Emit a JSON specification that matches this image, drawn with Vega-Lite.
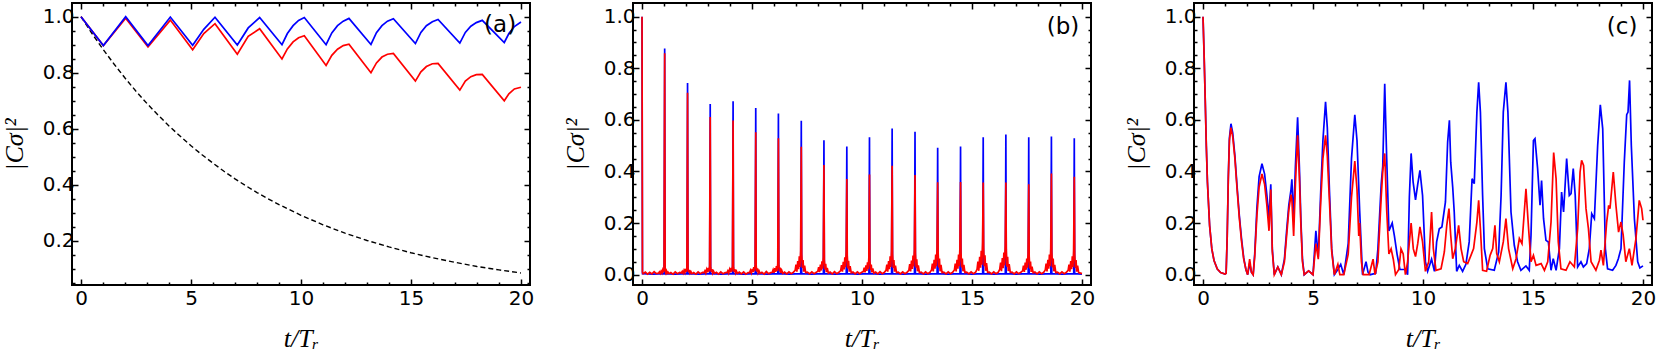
{
"$schema": "https://vega.github.io/schema/vega-lite/v6.json",
"padding": {"left": 0, "top": 1, "right": 0, "bottom": 0},
"spacing": 26,
"config": {
  "view": {"stroke": "black", "strokeWidth": 2},
  "axis": {"labelFont": "DejaVu Sans", "labelFontSize": 20, "labelColor": "black", "tickColor": "black", "tickWidth": 1.5, "domain": false, "grid": false, "labelOverlap": false, "labelFlush": false, "titleColor": "black", "titleFont": "Liberation Serif, DejaVu Serif", "titleFontStyle": "italic", "titleFontWeight": "normal", "titleFontSize": 26}
},
"datasets": {
  "a_exp": [{"t":0,"v":1.0},{"t":0.5,"v":0.940},{"t":1,"v":0.884},{"t":1.5,"v":0.831},{"t":2,"v":0.781},{"t":2.5,"v":0.734},{"t":3,"v":0.690},{"t":3.5,"v":0.649},{"t":4,"v":0.610},{"t":4.5,"v":0.574},{"t":5,"v":0.539},{"t":5.5,"v":0.507},{"t":6,"v":0.477},{"t":6.5,"v":0.448},{"t":7,"v":0.421},{"t":7.5,"v":0.396},{"t":8,"v":0.372},{"t":8.5,"v":0.350},{"t":9,"v":0.329},{"t":9.5,"v":0.310},{"t":10,"v":0.291},{"t":11,"v":0.257},{"t":12,"v":0.227},{"t":13,"v":0.201},{"t":14,"v":0.178},{"t":15,"v":0.157},{"t":16,"v":0.139},{"t":17,"v":0.123},{"t":18,"v":0.108},{"t":19,"v":0.096},{"t":20,"v":0.085}],
  "a_blue": [{"t":0,"v":1.0},{"t":1.015,"v":0.897},{"t":2.03,"v":1.0},{"t":3.045,"v":0.897},{"t":4.06,"v":0.999},{"t":5.075,"v":0.898},{"t":5.58,"v":0.955},{"t":6.09,"v":0.998},{"t":7.105,"v":0.899},{"t":7.6,"v":0.96},{"t":8.12,"v":0.997},{"t":9.135,"v":0.900},{"t":9.38,"v":0.94},{"t":9.64,"v":0.968},{"t":9.89,"v":0.987},{"t":10.15,"v":0.997},{"t":11.14,"v":0.900},{"t":11.4,"v":0.942},{"t":11.66,"v":0.968},{"t":11.92,"v":0.984},{"t":12.18,"v":0.994},{"t":13.18,"v":0.901},{"t":13.43,"v":0.943},{"t":13.68,"v":0.968},{"t":13.93,"v":0.984},{"t":14.2,"v":0.993},{"t":15.2,"v":0.904},{"t":15.45,"v":0.944},{"t":15.7,"v":0.968},{"t":15.97,"v":0.982},{"t":16.23,"v":0.990},{"t":17.22,"v":0.906},{"t":17.47,"v":0.944},{"t":17.72,"v":0.966},{"t":17.97,"v":0.979},{"t":18.24,"v":0.987},{"t":19.24,"v":0.908},{"t":19.45,"v":0.94},{"t":19.7,"v":0.965},{"t":20.0,"v":0.981}],
  "a_red": [{"t":0,"v":1.0},{"t":1.015,"v":0.897},{"t":2.03,"v":0.995},{"t":3.045,"v":0.892},{"t":4.06,"v":0.988},{"t":5.075,"v":0.882},{"t":5.58,"v":0.94},{"t":6.09,"v":0.975},{"t":7.105,"v":0.866},{"t":7.6,"v":0.93},{"t":8.12,"v":0.957},{"t":9.135,"v":0.849},{"t":9.38,"v":0.885},{"t":9.64,"v":0.91},{"t":9.89,"v":0.925},{"t":10.15,"v":0.932},{"t":11.14,"v":0.826},{"t":11.4,"v":0.862},{"t":11.66,"v":0.884},{"t":11.92,"v":0.897},{"t":12.18,"v":0.902},{"t":13.18,"v":0.800},{"t":13.43,"v":0.835},{"t":13.68,"v":0.856},{"t":13.93,"v":0.866},{"t":14.2,"v":0.869},{"t":15.2,"v":0.770},{"t":15.45,"v":0.803},{"t":15.7,"v":0.822},{"t":15.97,"v":0.832},{"t":16.23,"v":0.833},{"t":17.22,"v":0.738},{"t":17.47,"v":0.77},{"t":17.72,"v":0.786},{"t":17.97,"v":0.793},{"t":18.24,"v":0.794},{"t":19.24,"v":0.700},{"t":19.45,"v":0.725},{"t":19.7,"v":0.742},{"t":20.0,"v":0.748}],
  "b_blue": [{"t":0,"v":1.0},{"t":0.02,"v":0.004},{"t":0.5,"v":0.002},
    {"t":1.005,"v":0.004},{"t":1.03,"v":0.877},{"t":1.048,"v":0.004},{"t":1.5,"v":0.002},
    {"t":2.045,"v":0.004},{"t":2.07,"v":0.743},{"t":2.088,"v":0.004},{"t":2.6,"v":0.002},
    {"t":3.075,"v":0.004},{"t":3.10,"v":0.662},{"t":3.118,"v":0.004},{"t":3.6,"v":0.002},
    {"t":4.115,"v":0.004},{"t":4.14,"v":0.672},{"t":4.158,"v":0.004},{"t":4.6,"v":0.002},
    {"t":5.145,"v":0.004},{"t":5.17,"v":0.646},{"t":5.188,"v":0.004},{"t":5.7,"v":0.002},
    {"t":6.175,"v":0.004},{"t":6.20,"v":0.625},{"t":6.218,"v":0.004},{"t":6.7,"v":0.002},
    {"t":7.215,"v":0.004},{"t":7.24,"v":0.597},{"t":7.258,"v":0.004},{"t":7.7,"v":0.002},
    {"t":8.245,"v":0.004},{"t":8.27,"v":0.521},{"t":8.288,"v":0.004},{"t":8.8,"v":0.002},
    {"t":9.285,"v":0.004},{"t":9.31,"v":0.497},{"t":9.328,"v":0.004},{"t":9.8,"v":0.002},
    {"t":10.315,"v":0.004},{"t":10.34,"v":0.533},{"t":10.358,"v":0.004},{"t":10.8,"v":0.002},
    {"t":11.345,"v":0.004},{"t":11.37,"v":0.567},{"t":11.388,"v":0.004},{"t":11.9,"v":0.002},
    {"t":12.385,"v":0.004},{"t":12.41,"v":0.554},{"t":12.428,"v":0.004},{"t":12.9,"v":0.002},
    {"t":13.415,"v":0.004},{"t":13.44,"v":0.492},{"t":13.458,"v":0.004},{"t":13.9,"v":0.002},
    {"t":14.455,"v":0.004},{"t":14.48,"v":0.497},{"t":14.498,"v":0.004},{"t":15.0,"v":0.002},
    {"t":15.485,"v":0.004},{"t":15.51,"v":0.533},{"t":15.528,"v":0.004},{"t":16.0,"v":0.002},
    {"t":16.515,"v":0.004},{"t":16.54,"v":0.543},{"t":16.558,"v":0.004},{"t":17.0,"v":0.002},
    {"t":17.555,"v":0.004},{"t":17.58,"v":0.533},{"t":17.598,"v":0.004},{"t":18.1,"v":0.002},
    {"t":18.585,"v":0.004},{"t":18.61,"v":0.536},{"t":18.628,"v":0.004},{"t":19.1,"v":0.002},
    {"t":19.625,"v":0.004},{"t":19.65,"v":0.529},{"t":19.668,"v":0.004},{"t":20.0,"v":0.002}],
  "b_red": [{"t":0,"v":1.0},{"t":0.02,"v":0.010},{"t":0.05,"v":0.004},{"t":0.15,"v":0.010},{"t":0.25,"v":0.002},{"t":0.35,"v":0.009},{"t":0.45,"v":0.003},{"t":0.55,"v":0.012},{"t":0.65,"v":0.004},
    {"t":0.75,"v":0.006},{"t":0.79,"v":0.011},{"t":0.83,"v":0.005},{"t":0.87,"v":0.014},{"t":0.91,"v":0.007},{"t":0.94,"v":0.018},{"t":0.97,"v":0.009},{"t":1.00,"v":0.023},{"t":1.03,"v":0.858},{"t":1.05,"v":0.020},{"t":1.08,"v":0.008},{"t":1.11,"v":0.015},{"t":1.14,"v":0.005},{"t":1.18,"v":0.010},{"t":1.23,"v":0.004},{"t":1.31,"v":0.008},{"t":1.41,"v":0.002},{"t":1.51,"v":0.011},{"t":1.61,"v":0.004},{"t":1.71,"v":0.009},
    {"t":1.79,"v":0.007},{"t":1.83,"v":0.013},{"t":1.87,"v":0.006},{"t":1.91,"v":0.017},{"t":1.95,"v":0.008},{"t":1.98,"v":0.022},{"t":2.01,"v":0.011},{"t":2.04,"v":0.028},{"t":2.07,"v":0.705},{"t":2.09,"v":0.024},{"t":2.12,"v":0.009},{"t":2.15,"v":0.018},{"t":2.18,"v":0.006},{"t":2.22,"v":0.012},{"t":2.27,"v":0.004},{"t":2.35,"v":0.008},{"t":2.45,"v":0.002},{"t":2.55,"v":0.011},{"t":2.65,"v":0.004},{"t":2.75,"v":0.009},
    {"t":2.82,"v":0.008},{"t":2.86,"v":0.015},{"t":2.90,"v":0.006},{"t":2.94,"v":0.020},{"t":2.98,"v":0.009},{"t":3.01,"v":0.026},{"t":3.04,"v":0.012},{"t":3.07,"v":0.033},{"t":3.10,"v":0.611},{"t":3.12,"v":0.029},{"t":3.15,"v":0.011},{"t":3.18,"v":0.021},{"t":3.21,"v":0.006},{"t":3.25,"v":0.014},{"t":3.30,"v":0.005},{"t":3.38,"v":0.009},{"t":3.48,"v":0.002},{"t":3.58,"v":0.011},{"t":3.68,"v":0.004},{"t":3.78,"v":0.008},
    {"t":3.86,"v":0.008},{"t":3.90,"v":0.015},{"t":3.94,"v":0.006},{"t":3.98,"v":0.020},{"t":4.02,"v":0.009},{"t":4.05,"v":0.026},{"t":4.08,"v":0.012},{"t":4.11,"v":0.033},{"t":4.14,"v":0.598},{"t":4.16,"v":0.029},{"t":4.19,"v":0.011},{"t":4.22,"v":0.021},{"t":4.25,"v":0.006},{"t":4.29,"v":0.014},{"t":4.34,"v":0.005},{"t":4.42,"v":0.010},{"t":4.52,"v":0.003},{"t":4.62,"v":0.011},{"t":4.72,"v":0.002},{"t":4.82,"v":0.008},
    {"t":4.89,"v":0.008},{"t":4.93,"v":0.017},{"t":4.97,"v":0.007},{"t":5.01,"v":0.022},{"t":5.05,"v":0.010},{"t":5.08,"v":0.029},{"t":5.11,"v":0.014},{"t":5.14,"v":0.038},{"t":5.17,"v":0.552},{"t":5.19,"v":0.033},{"t":5.22,"v":0.012},{"t":5.25,"v":0.024},{"t":5.28,"v":0.007},{"t":5.32,"v":0.015},{"t":5.37,"v":0.005},{"t":5.45,"v":0.009},{"t":5.55,"v":0.002},{"t":5.65,"v":0.012},{"t":5.75,"v":0.004},{"t":5.85,"v":0.008},
    {"t":5.92,"v":0.009},{"t":5.96,"v":0.019},{"t":6.00,"v":0.007},{"t":6.04,"v":0.025},{"t":6.08,"v":0.011},{"t":6.11,"v":0.033},{"t":6.14,"v":0.015},{"t":6.17,"v":0.043},{"t":6.20,"v":0.529},{"t":6.22,"v":0.037},{"t":6.25,"v":0.013},{"t":6.28,"v":0.027},{"t":6.31,"v":0.007},{"t":6.35,"v":0.017},{"t":6.40,"v":0.005},{"t":6.48,"v":0.010},{"t":6.58,"v":0.003},{"t":6.68,"v":0.011},{"t":6.78,"v":0.004},{"t":6.88,"v":0.009},
    {"t":6.96,"v":0.017},{"t":7.00,"v":0.039},{"t":7.04,"v":0.012},{"t":7.08,"v":0.053},{"t":7.12,"v":0.021},{"t":7.15,"v":0.071},{"t":7.18,"v":0.030},{"t":7.21,"v":0.093},{"t":7.24,"v":0.496},{"t":7.26,"v":0.080},{"t":7.29,"v":0.026},{"t":7.32,"v":0.057},{"t":7.35,"v":0.012},{"t":7.39,"v":0.035},{"t":7.44,"v":0.008},{"t":7.52,"v":0.010},{"t":7.62,"v":0.003},{"t":7.72,"v":0.011},{"t":7.82,"v":0.004},{"t":7.92,"v":0.009},
    {"t":7.99,"v":0.013},{"t":8.03,"v":0.029},{"t":8.07,"v":0.010},{"t":8.11,"v":0.039},{"t":8.15,"v":0.016},{"t":8.18,"v":0.052},{"t":8.21,"v":0.023},{"t":8.24,"v":0.068},{"t":8.27,"v":0.425},{"t":8.29,"v":0.058},{"t":8.32,"v":0.019},{"t":8.35,"v":0.042},{"t":8.38,"v":0.010},{"t":8.42,"v":0.026},{"t":8.47,"v":0.006},{"t":8.55,"v":0.010},{"t":8.65,"v":0.003},{"t":8.75,"v":0.012},{"t":8.85,"v":0.004},{"t":8.95,"v":0.009},
    {"t":9.03,"v":0.016},{"t":9.07,"v":0.037},{"t":9.11,"v":0.012},{"t":9.15,"v":0.050},{"t":9.19,"v":0.020},{"t":9.22,"v":0.067},{"t":9.25,"v":0.029},{"t":9.28,"v":0.088},{"t":9.31,"v":0.371},{"t":9.33,"v":0.075},{"t":9.36,"v":0.024},{"t":9.39,"v":0.054},{"t":9.42,"v":0.012},{"t":9.46,"v":0.033},{"t":9.51,"v":0.007},{"t":9.59,"v":0.010},{"t":9.69,"v":0.003},{"t":9.79,"v":0.011},{"t":9.89,"v":0.004},{"t":9.99,"v":0.009},
    {"t":10.06,"v":0.012},{"t":10.10,"v":0.027},{"t":10.14,"v":0.009},{"t":10.18,"v":0.036},{"t":10.22,"v":0.015},{"t":10.25,"v":0.048},{"t":10.28,"v":0.021},{"t":10.31,"v":0.063},{"t":10.34,"v":0.388},{"t":10.36,"v":0.054},{"t":10.39,"v":0.018},{"t":10.42,"v":0.039},{"t":10.45,"v":0.009},{"t":10.49,"v":0.024},{"t":10.54,"v":0.006},{"t":10.62,"v":0.010},{"t":10.72,"v":0.003},{"t":10.82,"v":0.012},{"t":10.92,"v":0.004},{"t":11.02,"v":0.009},
    {"t":11.09,"v":0.017},{"t":11.13,"v":0.039},{"t":11.17,"v":0.012},{"t":11.21,"v":0.053},{"t":11.25,"v":0.021},{"t":11.28,"v":0.071},{"t":11.31,"v":0.030},{"t":11.34,"v":0.093},{"t":11.37,"v":0.422},{"t":11.39,"v":0.080},{"t":11.42,"v":0.026},{"t":11.45,"v":0.057},{"t":11.48,"v":0.012},{"t":11.52,"v":0.035},{"t":11.57,"v":0.008},{"t":11.65,"v":0.010},{"t":11.75,"v":0.003},{"t":11.85,"v":0.011},{"t":11.95,"v":0.004},{"t":12.05,"v":0.009},
    {"t":12.13,"v":0.017},{"t":12.17,"v":0.041},{"t":12.21,"v":0.013},{"t":12.25,"v":0.055},{"t":12.29,"v":0.022},{"t":12.32,"v":0.074},{"t":12.35,"v":0.032},{"t":12.38,"v":0.098},{"t":12.41,"v":0.386},{"t":12.43,"v":0.084},{"t":12.46,"v":0.027},{"t":12.49,"v":0.060},{"t":12.52,"v":0.013},{"t":12.56,"v":0.036},{"t":12.61,"v":0.008},{"t":12.69,"v":0.010},{"t":12.79,"v":0.003},{"t":12.89,"v":0.011},{"t":12.99,"v":0.004},{"t":13.09,"v":0.009},
    {"t":13.16,"v":0.018},{"t":13.20,"v":0.043},{"t":13.24,"v":0.013},{"t":13.28,"v":0.058},{"t":13.32,"v":0.023},{"t":13.35,"v":0.078},{"t":13.38,"v":0.033},{"t":13.41,"v":0.103},{"t":13.44,"v":0.358},{"t":13.46,"v":0.088},{"t":13.49,"v":0.028},{"t":13.52,"v":0.063},{"t":13.55,"v":0.013},{"t":13.59,"v":0.038},{"t":13.64,"v":0.008},{"t":13.72,"v":0.010},{"t":13.82,"v":0.003},{"t":13.92,"v":0.011},{"t":14.02,"v":0.004},{"t":14.12,"v":0.009},
    {"t":14.20,"v":0.018},{"t":14.24,"v":0.043},{"t":14.28,"v":0.013},{"t":14.32,"v":0.058},{"t":14.36,"v":0.023},{"t":14.39,"v":0.078},{"t":14.42,"v":0.033},{"t":14.45,"v":0.103},{"t":14.48,"v":0.359},{"t":14.50,"v":0.088},{"t":14.53,"v":0.028},{"t":14.56,"v":0.063},{"t":14.59,"v":0.013},{"t":14.63,"v":0.038},{"t":14.68,"v":0.008},{"t":14.76,"v":0.010},{"t":14.86,"v":0.003},{"t":14.96,"v":0.011},{"t":15.06,"v":0.004},{"t":15.16,"v":0.009},
    {"t":15.23,"v":0.021},{"t":15.27,"v":0.051},{"t":15.31,"v":0.015},{"t":15.35,"v":0.069},{"t":15.39,"v":0.027},{"t":15.42,"v":0.093},{"t":15.45,"v":0.039},{"t":15.48,"v":0.123},{"t":15.51,"v":0.357},{"t":15.53,"v":0.105},{"t":15.56,"v":0.033},{"t":15.59,"v":0.075},{"t":15.62,"v":0.015},{"t":15.66,"v":0.045},{"t":15.71,"v":0.009},{"t":15.79,"v":0.010},{"t":15.89,"v":0.003},{"t":15.99,"v":0.011},{"t":16.09,"v":0.004},{"t":16.19,"v":0.009},
    {"t":16.26,"v":0.020},{"t":16.30,"v":0.047},{"t":16.34,"v":0.014},{"t":16.38,"v":0.064},{"t":16.42,"v":0.025},{"t":16.45,"v":0.086},{"t":16.48,"v":0.036},{"t":16.51,"v":0.113},{"t":16.54,"v":0.357},{"t":16.56,"v":0.097},{"t":16.59,"v":0.031},{"t":16.62,"v":0.069},{"t":16.65,"v":0.014},{"t":16.69,"v":0.041},{"t":16.74,"v":0.009},{"t":16.82,"v":0.010},{"t":16.92,"v":0.003},{"t":17.02,"v":0.011},{"t":17.12,"v":0.004},{"t":17.22,"v":0.009},
    {"t":17.30,"v":0.015},{"t":17.34,"v":0.035},{"t":17.38,"v":0.011},{"t":17.42,"v":0.047},{"t":17.46,"v":0.019},{"t":17.49,"v":0.063},{"t":17.52,"v":0.027},{"t":17.55,"v":0.083},{"t":17.58,"v":0.350},{"t":17.60,"v":0.071},{"t":17.63,"v":0.023},{"t":17.66,"v":0.051},{"t":17.69,"v":0.011},{"t":17.73,"v":0.031},{"t":17.78,"v":0.007},{"t":17.86,"v":0.010},{"t":17.96,"v":0.003},{"t":18.06,"v":0.011},{"t":18.16,"v":0.004},{"t":18.26,"v":0.009},
    {"t":18.33,"v":0.018},{"t":18.37,"v":0.043},{"t":18.41,"v":0.013},{"t":18.45,"v":0.058},{"t":18.49,"v":0.023},{"t":18.52,"v":0.078},{"t":18.55,"v":0.033},{"t":18.58,"v":0.103},{"t":18.61,"v":0.392},{"t":18.63,"v":0.088},{"t":18.66,"v":0.028},{"t":18.69,"v":0.063},{"t":18.72,"v":0.013},{"t":18.76,"v":0.038},{"t":18.81,"v":0.008},{"t":18.89,"v":0.010},{"t":18.99,"v":0.003},{"t":19.09,"v":0.011},{"t":19.19,"v":0.004},{"t":19.29,"v":0.009},
    {"t":19.37,"v":0.017},{"t":19.41,"v":0.039},{"t":19.45,"v":0.012},{"t":19.49,"v":0.053},{"t":19.53,"v":0.021},{"t":19.56,"v":0.071},{"t":19.59,"v":0.030},{"t":19.62,"v":0.093},{"t":19.65,"v":0.380},{"t":19.67,"v":0.080},{"t":19.70,"v":0.026},{"t":19.73,"v":0.057},{"t":19.76,"v":0.012},{"t":19.80,"v":0.035},{"t":19.85,"v":0.008},{"t":19.93,"v":0.006},{"t":20.0,"v":0.004}],
  "c_blue": [{"t":0,"v":1.0},{"t":0.05,"v":0.85},{"t":0.1,"v":0.68},{"t":0.15,"v":0.5},{"t":0.2,"v":0.36},{"t":0.3,"v":0.19},{"t":0.4,"v":0.1},{"t":0.5,"v":0.055},{"t":0.65,"v":0.022},{"t":0.8,"v":0.008},{"t":1.0,"v":0.002},{"t":1.05,"v":0.005},{"t":1.1,"v":0.15},{"t":1.15,"v":0.38},{"t":1.2,"v":0.53},{"t":1.27,"v":0.585},{"t":1.35,"v":0.55},{"t":1.45,"v":0.46},{"t":1.55,"v":0.34},{"t":1.65,"v":0.23},{"t":1.75,"v":0.14},{"t":1.85,"v":0.065},{"t":1.95,"v":0.02},{"t":2.03,"v":0.0},{"t":2.12,"v":0.045},{"t":2.2,"v":0.01},{"t":2.28,"v":0.0},{"t":2.35,"v":0.08},{"t":2.45,"v":0.26},{"t":2.55,"v":0.38},{"t":2.68,"v":0.43},{"t":2.8,"v":0.39},{"t":2.9,"v":0.31},{"t":3.0,"v":0.22},{"t":3.08,"v":0.35},{"t":3.15,"v":0.1},{"t":3.24,"v":0.0},{"t":3.4,"v":0.03},{"t":3.56,"v":0.0},{"t":3.7,"v":0.06},{"t":3.8,"v":0.17},{"t":3.9,"v":0.27},{"t":4.0,"v":0.33},{"t":4.04,"v":0.37},{"t":4.12,"v":0.21},{"t":4.2,"v":0.42},{"t":4.3,"v":0.61},{"t":4.38,"v":0.42},{"t":4.45,"v":0.21},{"t":4.52,"v":0.06},{"t":4.6,"v":0.0},{"t":4.8,"v":0.015},{"t":5.0,"v":0.0},{"t":5.13,"v":0.17},{"t":5.24,"v":0.07},{"t":5.35,"v":0.32},{"t":5.45,"v":0.52},{"t":5.57,"v":0.67},{"t":5.65,"v":0.57},{"t":5.75,"v":0.32},{"t":5.85,"v":0.1},{"t":5.97,"v":0.0},{"t":6.13,"v":0.02},{"t":6.26,"v":0.04},{"t":6.4,"v":0.0},{"t":6.6,"v":0.12},{"t":6.75,"v":0.45},{"t":6.9,"v":0.62},{"t":7.0,"v":0.52},{"t":7.12,"v":0.25},{"t":7.25,"v":0.0},{"t":7.41,"v":0.05},{"t":7.5,"v":0.01},{"t":7.6,"v":0.0},{"t":7.85,"v":0.005},{"t":7.95,"v":0.1},{"t":8.1,"v":0.35},{"t":8.17,"v":0.42},{"t":8.26,"v":0.74},{"t":8.35,"v":0.45},{"t":8.45,"v":0.17},{"t":8.6,"v":0.2},{"t":8.7,"v":0.15},{"t":8.82,"v":0.08},{"t":8.95,"v":0.02},{"t":9.2,"v":0.02},{"t":9.3,"v":0.0},{"t":9.38,"v":0.3},{"t":9.46,"v":0.47},{"t":9.55,"v":0.36},{"t":9.66,"v":0.29},{"t":9.76,"v":0.35},{"t":9.86,"v":0.404},{"t":9.98,"v":0.307},{"t":10.11,"v":0.05},{"t":10.21,"v":0.013},{"t":10.39,"v":0.06},{"t":10.52,"v":0.013},{"t":10.62,"v":0.127},{"t":10.74,"v":0.178},{"t":10.86,"v":0.185},{"t":11.02,"v":0.282},{"t":11.12,"v":0.514},{"t":11.2,"v":0.598},{"t":11.26,"v":0.436},{"t":11.35,"v":0.34},{"t":11.42,"v":0.243},{"t":11.53,"v":0.013},{"t":11.65,"v":0.036},{"t":11.8,"v":0.013},{"t":11.95,"v":0.04},{"t":12.1,"v":0.127},{"t":12.23,"v":0.372},{"t":12.33,"v":0.353},{"t":12.45,"v":0.63},{"t":12.53,"v":0.746},{"t":12.61,"v":0.63},{"t":12.71,"v":0.307},{"t":12.79,"v":0.101},{"t":12.94,"v":0.023},{"t":13.24,"v":0.017},{"t":13.44,"v":0.088},{"t":13.55,"v":0.307},{"t":13.65,"v":0.63},{"t":13.77,"v":0.746},{"t":13.86,"v":0.63},{"t":14.0,"v":0.243},{"t":14.15,"v":0.114},{"t":14.3,"v":0.05},{"t":14.45,"v":0.017},{"t":14.68,"v":0.034},{"t":14.83,"v":0.017},{"t":14.91,"v":0.153},{"t":15.02,"v":0.52},{"t":15.09,"v":0.527},{"t":15.21,"v":0.411},{"t":15.32,"v":0.269},{"t":15.39,"v":0.365},{"t":15.48,"v":0.217},{"t":15.59,"v":0.133},{"t":15.7,"v":0.127},{"t":15.82,"v":0.017},{"t":15.92,"v":0.062},{"t":16.05,"v":0.017},{"t":16.2,"v":0.101},{"t":16.3,"v":0.32},{"t":16.39,"v":0.243},{"t":16.53,"v":0.45},{"t":16.65,"v":0.307},{"t":16.73,"v":0.314},{"t":16.83,"v":0.411},{"t":16.92,"v":0.307},{"t":17.03,"v":0.03},{"t":17.18,"v":0.05},{"t":17.29,"v":0.03},{"t":17.44,"v":0.043},{"t":17.56,"v":0.101},{"t":17.67,"v":0.236},{"t":17.79,"v":0.217},{"t":17.94,"v":0.501},{"t":18.06,"v":0.658},{"t":18.17,"v":0.565},{"t":18.29,"v":0.101},{"t":18.39,"v":0.023},{"t":18.62,"v":0.017},{"t":18.77,"v":0.036},{"t":18.88,"v":0.062},{"t":19.0,"v":0.101},{"t":19.15,"v":0.436},{"t":19.26,"v":0.62},{"t":19.32,"v":0.63},{"t":19.39,"v":0.753},{"t":19.47,"v":0.501},{"t":19.61,"v":0.217},{"t":19.76,"v":0.05},{"t":19.86,"v":0.026},{"t":20.0,"v":0.034}],
  "c_red": [{"t":0,"v":1.0},{"t":0.05,"v":0.85},{"t":0.1,"v":0.68},{"t":0.15,"v":0.5},{"t":0.2,"v":0.36},{"t":0.3,"v":0.19},{"t":0.4,"v":0.1},{"t":0.5,"v":0.055},{"t":0.65,"v":0.022},{"t":0.8,"v":0.008},{"t":1.0,"v":0.002},{"t":1.05,"v":0.005},{"t":1.1,"v":0.15},{"t":1.15,"v":0.37},{"t":1.2,"v":0.52},{"t":1.27,"v":0.57},{"t":1.35,"v":0.535},{"t":1.45,"v":0.45},{"t":1.55,"v":0.33},{"t":1.65,"v":0.22},{"t":1.75,"v":0.13},{"t":1.85,"v":0.06},{"t":1.95,"v":0.02},{"t":2.03,"v":0.0},{"t":2.12,"v":0.06},{"t":2.2,"v":0.01},{"t":2.28,"v":0.0},{"t":2.35,"v":0.07},{"t":2.45,"v":0.23},{"t":2.55,"v":0.34},{"t":2.68,"v":0.39},{"t":2.8,"v":0.35},{"t":2.9,"v":0.27},{"t":3.0,"v":0.17},{"t":3.08,"v":0.33},{"t":3.15,"v":0.09},{"t":3.24,"v":0.0},{"t":3.4,"v":0.03},{"t":3.56,"v":0.0},{"t":3.7,"v":0.05},{"t":3.8,"v":0.15},{"t":3.9,"v":0.25},{"t":4.0,"v":0.31},{"t":4.04,"v":0.29},{"t":4.12,"v":0.15},{"t":4.2,"v":0.35},{"t":4.3,"v":0.54},{"t":4.38,"v":0.38},{"t":4.45,"v":0.19},{"t":4.52,"v":0.05},{"t":4.6,"v":0.0},{"t":4.8,"v":0.015},{"t":5.0,"v":0.0},{"t":5.13,"v":0.12},{"t":5.24,"v":0.06},{"t":5.35,"v":0.28},{"t":5.45,"v":0.45},{"t":5.57,"v":0.54},{"t":5.65,"v":0.46},{"t":5.75,"v":0.28},{"t":5.85,"v":0.09},{"t":5.97,"v":0.0},{"t":6.13,"v":0.04},{"t":6.22,"v":0.0},{"t":6.4,"v":0.0},{"t":6.6,"v":0.08},{"t":6.75,"v":0.3},{"t":6.9,"v":0.44},{"t":7.0,"v":0.33},{"t":7.08,"v":0.15},{"t":7.12,"v":0.2},{"t":7.2,"v":0.05},{"t":7.28,"v":0.0},{"t":7.55,"v":0.0},{"t":7.73,"v":0.06},{"t":7.82,"v":0.0},{"t":7.95,"v":0.05},{"t":8.1,"v":0.3},{"t":8.17,"v":0.4},{"t":8.26,"v":0.47},{"t":8.35,"v":0.25},{"t":8.45,"v":0.08},{"t":8.55,"v":0.1},{"t":8.65,"v":0.06},{"t":8.75,"v":0.0},{"t":8.9,"v":0.02},{"t":9.0,"v":0.1},{"t":9.1,"v":0.08},{"t":9.2,"v":0.0},{"t":9.3,"v":0.05},{"t":9.46,"v":0.2},{"t":9.56,"v":0.1},{"t":9.66,"v":0.07},{"t":9.76,"v":0.12},{"t":9.86,"v":0.185},{"t":9.98,"v":0.127},{"t":10.11,"v":0.013},{"t":10.26,"v":0.05},{"t":10.39,"v":0.243},{"t":10.47,"v":0.101},{"t":10.59,"v":0.017},{"t":10.82,"v":0.023},{"t":10.97,"v":0.088},{"t":11.08,"v":0.191},{"t":11.18,"v":0.256},{"t":11.26,"v":0.153},{"t":11.35,"v":0.062},{"t":11.47,"v":0.101},{"t":11.62,"v":0.191},{"t":11.73,"v":0.101},{"t":11.85,"v":0.05},{"t":12.03,"v":0.043},{"t":12.18,"v":0.075},{"t":12.3,"v":0.101},{"t":12.45,"v":0.204},{"t":12.53,"v":0.288},{"t":12.61,"v":0.178},{"t":12.71,"v":0.017},{"t":12.89,"v":0.013},{"t":13.05,"v":0.075},{"t":13.17,"v":0.101},{"t":13.27,"v":0.191},{"t":13.35,"v":0.082},{"t":13.47,"v":0.05},{"t":13.65,"v":0.127},{"t":13.77,"v":0.217},{"t":13.89,"v":0.101},{"t":14.08,"v":0.023},{"t":14.23,"v":0.062},{"t":14.38,"v":0.14},{"t":14.5,"v":0.12},{"t":14.68,"v":0.333},{"t":14.8,"v":0.178},{"t":14.91,"v":0.05},{"t":15.02,"v":0.075},{"t":15.14,"v":0.036},{"t":15.37,"v":0.043},{"t":15.52,"v":0.017},{"t":15.67,"v":0.05},{"t":15.82,"v":0.204},{"t":15.94,"v":0.473},{"t":16.05,"v":0.372},{"t":16.15,"v":0.127},{"t":16.27,"v":0.023},{"t":16.5,"v":0.017},{"t":16.68,"v":0.05},{"t":16.88,"v":0.03},{"t":17.03,"v":0.178},{"t":17.14,"v":0.398},{"t":17.21,"v":0.443},{"t":17.3,"v":0.423},{"t":17.41,"v":0.256},{"t":17.52,"v":0.178},{"t":17.64,"v":0.05},{"t":17.86,"v":0.017},{"t":18.02,"v":0.056},{"t":18.09,"v":0.095},{"t":18.2,"v":0.036},{"t":18.35,"v":0.204},{"t":18.44,"v":0.269},{"t":18.5,"v":0.256},{"t":18.65,"v":0.398},{"t":18.77,"v":0.269},{"t":18.89,"v":0.165},{"t":19.0,"v":0.204},{"t":19.1,"v":0.153},{"t":19.22,"v":0.05},{"t":19.38,"v":0.101},{"t":19.5,"v":0.036},{"t":19.68,"v":0.14},{"t":19.83,"v":0.288},{"t":19.94,"v":0.256},{"t":20.0,"v":0.211}]
},
"hconcat": [
 {
  "width": 458, "height": 282,
  "layer": [
   {"data": {"name": "a_exp"}, "mark": {"type": "line", "color": "black", "strokeWidth": 1.4, "strokeDash": [5, 3]},
    "encoding": {
     "x": {"field": "t", "type": "quantitative", "scale": {"domain": [-0.41, 20.41], "nice": false, "zero": false},
       "axis": {"orient": "bottom", "values": [0,1,2,3,4,5,6,7,8,9,10,11,12,13,14,15,16,17,18,19,20], "labelExpr": "datum.value % 5 === 0 ? datum.label : ''", "tickSize": {"condition": {"test": "datum.value % 5 === 0", "value": -6}, "value": -3}, "labelPadding": 9, "title": "t/Tᵣ", "titlePadding": 14}},
     "y": {"field": "v", "type": "quantitative", "scale": {"domain": [0.042, 1.049], "nice": false, "zero": false},
       "axis": {"orient": "left", "values": [0.05,0.1,0.15,0.2,0.25,0.3,0.35,0.4,0.45,0.5,0.55,0.6,0.65,0.7,0.75,0.8,0.85,0.9,0.95,1.0], "labelExpr": "abs(datum.value*5 - round(datum.value*5)) < 0.01 ? format(datum.value, '.1f') : ''", "tickSize": {"condition": {"test": "abs(datum.value*5 - round(datum.value*5)) < 0.01", "value": -6}, "value": -3}, "labelPadding": 4, "minExtent": 35, "maxExtent": 35, "title": "|Cσ|²", "titlePadding": 10}}
    }},
   {"data": {"name": "a_red"}, "mark": {"type": "line", "color": "#ff0000", "strokeWidth": 1.7},
    "encoding": {"x": {"field": "t", "type": "quantitative", "axis": {"orient": "top", "values": [0,1,2,3,4,5,6,7,8,9,10,11,12,13,14,15,16,17,18,19,20], "labels": false, "title": null, "tickSize": {"condition": {"test": "datum.value % 5 === 0", "value": -6}, "value": -3}}},
     "y": {"field": "v", "type": "quantitative", "axis": {"orient": "right", "values": [0.05,0.1,0.15,0.2,0.25,0.3,0.35,0.4,0.45,0.5,0.55,0.6,0.65,0.7,0.75,0.8,0.85,0.9,0.95,1.0], "labels": false, "title": null, "tickSize": {"condition": {"test": "abs(datum.value*5 - round(datum.value*5)) < 0.01", "value": -6}, "value": -3}}}}},
   {"data": {"name": "a_blue"}, "mark": {"type": "line", "color": "#0000ff", "strokeWidth": 1.7},
    "encoding": {"x": {"field": "t", "type": "quantitative", "axis": null}, "y": {"field": "v", "type": "quantitative", "axis": null}}},
   {"data": {"values": [{"lab": "(a)"}]}, "mark": {"type": "text", "font": "DejaVu Sans", "fontSize": 23, "color": "black"},
    "encoding": {"x": {"datum": 19.05, "type": "quantitative", "axis": null}, "y": {"datum": 0.97, "type": "quantitative", "axis": null}, "text": {"field": "lab"}}}
  ],
  "resolve": {"axis": {"x": "independent", "y": "independent"}}
 },
 {
  "width": 458, "height": 282,
  "layer": [
   {"data": {"name": "b_blue"}, "mark": {"type": "line", "color": "#0000ff", "strokeWidth": 1.7},
    "encoding": {
     "x": {"field": "t", "type": "quantitative", "scale": {"domain": [-0.41, 20.41], "nice": false, "zero": false},
       "axis": {"orient": "bottom", "values": [0,1,2,3,4,5,6,7,8,9,10,11,12,13,14,15,16,17,18,19,20], "labelExpr": "datum.value % 5 === 0 ? datum.label : ''", "tickSize": {"condition": {"test": "datum.value % 5 === 0", "value": -6}, "value": -3}, "labelPadding": 9, "title": "t/Tᵣ", "titlePadding": 14}},
     "y": {"field": "v", "type": "quantitative", "scale": {"domain": [-0.04, 1.053], "nice": false, "zero": false},
       "axis": {"orient": "left", "values": [0,0.05,0.1,0.15,0.2,0.25,0.3,0.35,0.4,0.45,0.5,0.55,0.6,0.65,0.7,0.75,0.8,0.85,0.9,0.95,1.0], "labelExpr": "abs(datum.value*5 - round(datum.value*5)) < 0.01 ? format(datum.value, '.1f') : ''", "tickSize": {"condition": {"test": "abs(datum.value*5 - round(datum.value*5)) < 0.01", "value": -6}, "value": -3}, "labelPadding": 4, "minExtent": 35, "maxExtent": 35, "title": "|Cσ|²", "titlePadding": 10}}
    }},
   {"data": {"name": "b_red"}, "mark": {"type": "line", "color": "#ff0000", "strokeWidth": 1.7},
    "encoding": {"x": {"field": "t", "type": "quantitative", "axis": {"orient": "top", "values": [0,1,2,3,4,5,6,7,8,9,10,11,12,13,14,15,16,17,18,19,20], "labels": false, "title": null, "tickSize": {"condition": {"test": "datum.value % 5 === 0", "value": -6}, "value": -3}}},
     "y": {"field": "v", "type": "quantitative", "axis": {"orient": "right", "values": [0,0.05,0.1,0.15,0.2,0.25,0.3,0.35,0.4,0.45,0.5,0.55,0.6,0.65,0.7,0.75,0.8,0.85,0.9,0.95,1.0], "labels": false, "title": null, "tickSize": {"condition": {"test": "abs(datum.value*5 - round(datum.value*5)) < 0.01", "value": -6}, "value": -3}}}}},
   {"data": {"values": [{"lab": "(b)"}]}, "mark": {"type": "text", "font": "DejaVu Sans", "fontSize": 23, "color": "black"},
    "encoding": {"x": {"datum": 19.14, "type": "quantitative", "axis": null}, "y": {"datum": 0.96, "type": "quantitative", "axis": null}, "text": {"field": "lab"}}}
  ],
  "resolve": {"axis": {"x": "independent", "y": "independent"}}
 },
 {
  "width": 458, "height": 282,
  "layer": [
   {"data": {"name": "c_blue"}, "mark": {"type": "line", "color": "#0000ff", "strokeWidth": 1.7},
    "encoding": {
     "x": {"field": "t", "type": "quantitative", "scale": {"domain": [-0.41, 20.41], "nice": false, "zero": false},
       "axis": {"orient": "bottom", "values": [0,1,2,3,4,5,6,7,8,9,10,11,12,13,14,15,16,17,18,19,20], "labelExpr": "datum.value % 5 === 0 ? datum.label : ''", "tickSize": {"condition": {"test": "datum.value % 5 === 0", "value": -6}, "value": -3}, "labelPadding": 9, "title": "t/Tᵣ", "titlePadding": 14}},
     "y": {"field": "v", "type": "quantitative", "scale": {"domain": [-0.04, 1.053], "nice": false, "zero": false},
       "axis": {"orient": "left", "values": [0,0.05,0.1,0.15,0.2,0.25,0.3,0.35,0.4,0.45,0.5,0.55,0.6,0.65,0.7,0.75,0.8,0.85,0.9,0.95,1.0], "labelExpr": "abs(datum.value*5 - round(datum.value*5)) < 0.01 ? format(datum.value, '.1f') : ''", "tickSize": {"condition": {"test": "abs(datum.value*5 - round(datum.value*5)) < 0.01", "value": -6}, "value": -3}, "labelPadding": 4, "minExtent": 35, "maxExtent": 35, "title": "|Cσ|²", "titlePadding": 10}}
    }},
   {"data": {"name": "c_red"}, "mark": {"type": "line", "color": "#ff0000", "strokeWidth": 1.7},
    "encoding": {"x": {"field": "t", "type": "quantitative", "axis": {"orient": "top", "values": [0,1,2,3,4,5,6,7,8,9,10,11,12,13,14,15,16,17,18,19,20], "labels": false, "title": null, "tickSize": {"condition": {"test": "datum.value % 5 === 0", "value": -6}, "value": -3}}},
     "y": {"field": "v", "type": "quantitative", "axis": {"orient": "right", "values": [0,0.05,0.1,0.15,0.2,0.25,0.3,0.35,0.4,0.45,0.5,0.55,0.6,0.65,0.7,0.75,0.8,0.85,0.9,0.95,1.0], "labels": false, "title": null, "tickSize": {"condition": {"test": "abs(datum.value*5 - round(datum.value*5)) < 0.01", "value": -6}, "value": -3}}}}},
   {"data": {"values": [{"lab": "(c)"}]}, "mark": {"type": "text", "font": "DejaVu Sans", "fontSize": 23, "color": "black"},
    "encoding": {"x": {"datum": 19.05, "type": "quantitative", "axis": null}, "y": {"datum": 0.96, "type": "quantitative", "axis": null}, "text": {"field": "lab"}}}
  ],
  "resolve": {"axis": {"x": "independent", "y": "independent"}}
 }
]
}
